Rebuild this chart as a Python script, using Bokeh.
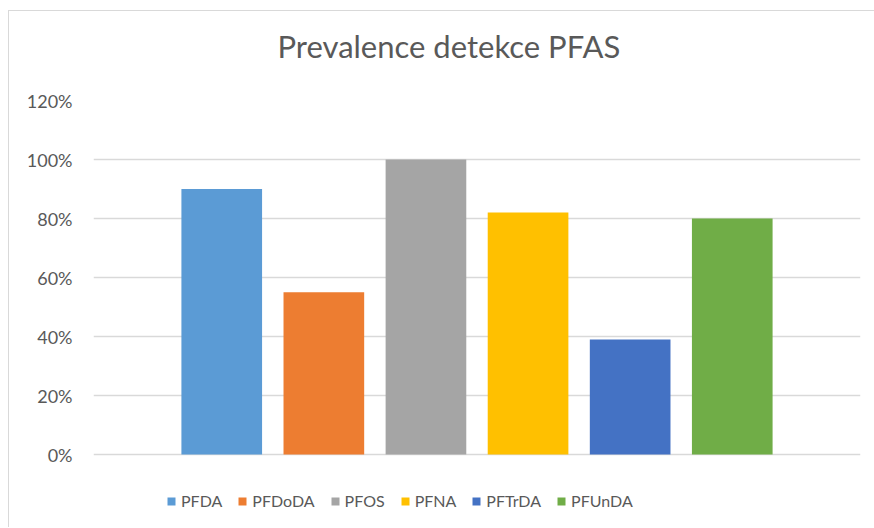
from bokeh.plotting import figure
from bokeh.models import FactorRange, Range1d, FixedTicker, NumeralTickFormatter, Title, ColumnDataSource
from bokeh.embed import file_html
from bokeh.resources import INLINE

compounds = ["PFDA", "PFDoDA", "PFOS", "PFNA", "PFTrDA", "PFUnDA"]
prevalence = [0.90, 0.55, 1.00, 0.82, 0.39, 0.80]
colors = ["#5B9BD5", "#ED7D31", "#A5A5A5", "#FFC000", "#4472C4", "#70AD47"]
y_ticks = [0.0, 0.2, 0.4, 0.6, 0.8, 1.0, 1.2]
title_text = "Prevalence detekce PFAS"

FONT = "Lato"
TEXT_COLOR = "#595959"

source = ColumnDataSource(dict(x=compounds, top=prevalence, color=colors))

# frame extends below 0% so the legend (inside the frame) is not clipped
p = figure(
    x_range=FactorRange(factors=compounds, range_padding=0.252, range_padding_units="percent"),
    y_range=Range1d(-73 / 295, 1.2),
    x_axis_location=None,
    frame_width=767, frame_height=427,
    min_border_left=84, min_border_right=14, min_border_top=89, min_border_bottom=0,
    output_backend="svg", toolbar_location=None,
)
p.styles = {"margin-left": "8px", "margin-top": "10px",
            "border-left": "1px solid #D9D9D9", "border-top": "1px solid #D9D9D9"}
p.outline_line_color = None

p.vbar(x="x", top="top", width=0.79, color="color", line_color=None,
       source=source, legend_field="x")

p.xgrid.visible = False
p.ygrid.grid_line_color = "#D9D9D9"
p.ygrid.grid_line_width = 1.5
p.ygrid.ticker = FixedTicker(ticks=y_ticks)

ya = p.yaxis[0]
ya.ticker = FixedTicker(ticks=y_ticks)
ya.formatter = NumeralTickFormatter(format="0%")
ya.axis_line_color = None
ya.major_tick_line_color = None
ya.major_tick_out = 0
ya.major_tick_in = 0
ya.minor_tick_line_color = None
ya.major_label_standoff = 21
ya.major_label_text_font = FONT
ya.major_label_text_font_size = "18px"
ya.major_label_text_color = TEXT_COLOR

spacer = Title(text=" ", standoff=19, text_font_size="1px")
p.add_layout(spacer, "above")
title = Title(text=title_text, align="left", offset=184, standoff=27,
              text_font=FONT, text_font_size="31px", text_font_style="normal",
              text_color=TEXT_COLOR)
p.add_layout(title, "above")

leg = p.legend[0]
leg.orientation = "horizontal"
leg.location = (73, 17)
leg.padding = 0
leg.margin = 0
leg.spacing = 15
leg.label_standoff = 5
leg.glyph_width = 10
leg.glyph_height = 10
leg.border_line_color = None
leg.background_fill_alpha = 0
leg.label_text_font = FONT
leg.label_text_font_size = "16px"
leg.label_text_color = TEXT_COLOR

open("out.html", "w").write(file_html(p, INLINE))
